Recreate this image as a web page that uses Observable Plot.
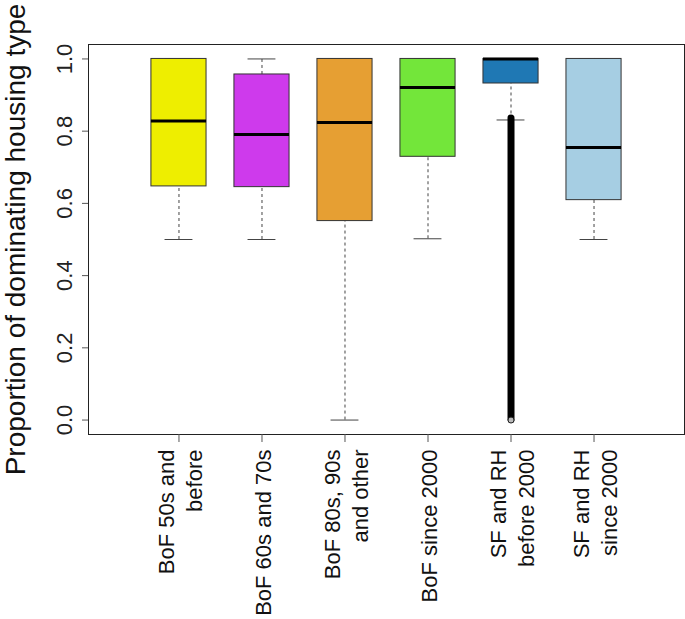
<!DOCTYPE html>
<html>
<head>
<meta charset="utf-8">
<script src="https://cdn.jsdelivr.net/npm/d3@7"></script>
<script src="https://cdn.jsdelivr.net/npm/@observablehq/plot@0.6"></script>
<style>
  html, body { margin: 0; padding: 0; background: white; }
</style>
</head>
<body>
<div id="chart"></div>
<script>
const categories = [
  "BoF 50s and\nbefore",
  "BoF 60s and 70s",
  "BoF 80s, 90s\nand other",
  "BoF since 2000",
  "SF and RH\nbefore 2000",
  "SF and RH\nsince 2000"
];
const lowerWhisker = [0.50, 0.50, 0.00, 0.502, 0.831, 0.50];
const q1 = [0.647, 0.645, 0.551, 0.729, 0.932, 0.609];
const median = [0.828, 0.791, 0.824, 0.921, 1.0, 0.755];
const q3 = [1.0, 0.957, 1.0, 1.0, 1.0, 1.0];
const upperWhisker = [1.0, 1.0, 1.0, 1.0, 1.0, 1.0];
const outlierLow = [null, null, null, null, 0.0, null];
const outlierHigh = [null, null, null, null, 0.835, null];
const colors = ["#EEEE00", "#CE3AEC", "#E69F33", "#73E63A", "#1F78B4", "#A6CEE3"];
const yTicks = [0, 0.2, 0.4, 0.6, 0.8, 1.0];
const yTitle = "Proportion of dominating housing type";

const rows = categories.map((c, i) => ({
  pos: i + 1, label: c, lw: lowerWhisker[i], q1: q1[i], med: median[i], q3: q3[i],
  uw: upperWhisker[i], oLow: outlierLow[i], oHigh: outlierHigh[i], color: colors[i]
}));
const outRows = rows.filter(d => d.oLow != null);

const halfBox = 0.332;
const halfCap = 0.168;
const font = "Liberation Sans, Arial, Helvetica, sans-serif";

const chart = Plot.plot({
  width: 685,
  height: 619,
  marginLeft: 88,
  marginRight: 1,
  marginTop: 44,
  marginBottom: 185,
  style: { fontFamily: font, background: "white", color: "#222" },
  x: { type: "linear", domain: [-0.09, 7.09] },
  y: { domain: [-0.04, 1.04] },
  marks: [
    // whiskers
    Plot.ruleX(rows, { x: "pos", y1: "lw", y2: "q1", stroke: "#444", strokeDasharray: "3,3", strokeWidth: 1 }),
    Plot.ruleX(rows, { x: "pos", y1: "q3", y2: "uw", stroke: "#444", strokeDasharray: "3,3", strokeWidth: 1 }),
    // caps
    Plot.ruleY(rows, { y: "lw", x1: d => d.pos - halfCap, x2: d => d.pos + halfCap, stroke: "#444", strokeWidth: 1 }),
    Plot.ruleY(rows, { y: "uw", x1: d => d.pos - halfCap, x2: d => d.pos + halfCap, stroke: "#444", strokeWidth: 1 }),
    // boxes
    Plot.rect(rows, { x1: d => d.pos - halfBox, x2: d => d.pos + halfBox, y1: "q1", y2: "q3", fill: "color", stroke: "#333", strokeWidth: 1 }),
    // medians
    Plot.ruleY(rows, { y: "med", x1: d => d.pos - halfBox, x2: d => d.pos + halfBox, stroke: "black", strokeWidth: 3 }),
    // dense outliers
    Plot.ruleX(outRows, { x: "pos", y1: "oLow", y2: "oHigh", stroke: "black", strokeWidth: 7, strokeLinecap: "round" }),
    Plot.dot(outRows, { x: "pos", y: "oLow", r: 3, fill: "#bbb", stroke: "#222", strokeWidth: 1 }),
    // frame
    Plot.frame({ stroke: "#222" }),
    // axes
    Plot.axisY({
      ticks: yTicks, tickFormat: d3.format(".1f"), tickRotate: -90, tickSize: 6, tickPadding: 11,
      fontSize: 22, label: null, stroke: "#555", textAnchor: "middle", lineAnchor: "bottom", fill: "#222"
    }),
    Plot.axisX({
      ticks: rows.map(d => d.pos), tickFormat: p => categories[p - 1], tickRotate: -90,
      tickSize: 8, tickPadding: 7, fontSize: 22, label: null, stroke: "#555",
      textAnchor: "end", lineAnchor: "middle", lineHeight: 1.27, fill: "#111"
    }),
    // y title
    Plot.text([yTitle], { text: d => d, frameAnchor: "left", textAnchor: "middle", lineAnchor: "middle", rotate: -90, dx: -72, fontSize: 28, fill: "#111" })
  ]
});
document.getElementById("chart").appendChild(chart);
</script>
</body>
</html>
